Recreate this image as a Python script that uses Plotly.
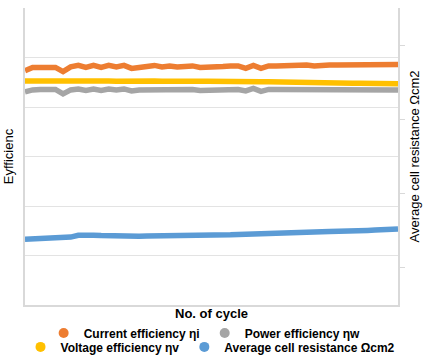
import plotly.graph_objects as go

cycles = list(range(1, 51))

current_eff = [94.7, 96.0, 96.0, 96.0, 96.0, 94.3, 96.2, 96.8, 96.0, 96.8,
               96.0, 96.8, 96.2, 96.8, 95.6, 96.0, 96.2, 96.8, 96.2, 96.6,
               96.2, 96.4, 96.6, 96.0, 96.0, 96.2, 96.4, 96.6, 96.6, 95.6,
               96.8, 95.6, 96.6, 96.6, 96.8, 96.8, 96.8, 97.0, 96.6, 97.0,
               97.0, 97.0, 97.0, 97.2, 97.0, 97.2, 97.0, 97.2, 97.2, 97.2]

voltage_eff = [90.5, 90.6, 90.5, 90.5, 90.6, 90.5, 90.5, 90.6, 90.5, 90.5,
               90.5, 90.5, 90.4, 90.5, 90.5, 90.4, 90.5, 90.5, 90.4, 90.5,
               90.4, 90.4, 90.5, 90.4, 90.4, 90.3, 90.3, 90.2, 90.2, 90.3,
               90.2, 90.2, 90.2, 90.1, 90.2, 90.1, 90.1, 89.9, 89.8, 89.8,
               89.8, 89.7, 89.7, 89.6, 89.6, 89.6, 89.5, 89.5, 89.4, 89.4]

power_eff = [86.1, 86.9, 87.1, 87.1, 87.1, 85.3, 86.9, 87.3, 86.7, 87.3,
             86.7, 87.3, 86.9, 87.3, 86.5, 86.9, 86.9, 87.3, 86.9, 87.1,
             86.9, 87.1, 87.1, 86.7, 86.7, 86.9, 86.9, 87.1, 87.1, 86.5,
             87.5, 86.3, 87.1, 87.1, 87.1, 87.1, 87.1, 87.1, 86.9, 86.9,
             86.9, 86.9, 86.9, 86.9, 86.9, 86.9, 86.9, 86.9, 86.9, 86.9]

resistance = [1.385, 1.39, 1.40, 1.40, 1.41, 1.42, 1.415, 1.44, 1.445, 1.44,
              1.435, 1.43, 1.435, 1.43, 1.43, 1.425, 1.43, 1.43, 1.43, 1.435,
              1.43, 1.435, 1.435, 1.44, 1.44, 1.44, 1.445, 1.445, 1.45, 1.45,
              1.46, 1.465, 1.46, 1.465, 1.47, 1.47, 1.475, 1.48, 1.48, 1.485,
              1.49, 1.49, 1.495, 1.50, 1.50, 1.505, 1.51, 1.515, 1.52, 1.525]

names = ["Current efficiency \u03b7i", "Power efficiency \u03b7w",
         "Voltage efficiency \u03b7v", "Average cell resistance \u03a9cm2"]
colors = ["#ED7D31", "#A5A5A5", "#FFC000", "#5B9BD5"]

FONT = "Liberation Sans, Arial, sans-serif"

fig = go.Figure()
series = [(current_eff, "y"), (power_eff, "y"), (voltage_eff, "y"), (resistance, "y2")]
for (vals, ax), nm, c in zip(series, names, colors):
    fig.add_trace(go.Scatter(x=cycles, y=vals, yaxis=ax, mode="lines",
                             line=dict(color=c, width=5.5), name=nm,
                             showlegend=False))

# legend entries (circle markers), two rows
legends = ["legend", "legend", "legend2", "legend2"]
for nm, c, lg in zip(names, colors, legends):
    fig.add_trace(go.Scatter(x=[None], y=[None], mode="markers",
                             marker=dict(color=c, size=10, symbol="circle"),
                             name=nm, legend=lg, showlegend=True))

legend_style = dict(orientation="h", xanchor="left", yanchor="middle",
                    font=dict(family=FONT, size=12, color="#000000", weight="bold"),
                    bgcolor="rgba(0,0,0,0)", itemwidth=30, borderwidth=0)

fig.update_layout(
    width=434, height=360,
    margin=dict(l=25, r=36, t=8, b=55, autoexpand=False),
    paper_bgcolor="white", plot_bgcolor="white",
    font=dict(family=FONT, color="#000000"),
    xaxis=dict(range=[1, 50], showgrid=False, zeroline=False, automargin=False,
               showline=True, linecolor="#D9D9D9", linewidth=1.5,
               showticklabels=False, ticks="",
               title=dict(text="No. of cycle", standoff=3,
                          font=dict(family=FONT, size=13, color="#000000", weight="bold"))),
    yaxis=dict(range=[0, 120], dtick=20, showgrid=True, gridcolor="#E3E3E3",
               gridwidth=1, zeroline=False, showline=True, linecolor="#D9D9D9",
               linewidth=1.5, showticklabels=False, ticks="", automargin=False,
               title=dict(text="Eyfficienc", standoff=7,
                          font=dict(family=FONT, size=13, color="#000000"))),
    yaxis2=dict(range=[0.5, 4.5], dtick=1, tick0=0, overlaying="y", side="right",
                showgrid=False, zeroline=False, showline=True, linecolor="#D9D9D9",
                linewidth=1.5, showticklabels=False, ticks="outside", ticklen=5,
                tickcolor="#D9D9D9", automargin=False,
                title=dict(text="Average cell resistance \u03a9cm2", standoff=6,
                           font=dict(family=FONT, size=13, color="#000000"))),
    legend=dict(x=0.05, y=-0.094, **legend_style),
    legend2=dict(x=-0.012, y=-0.141, **legend_style),
)

fig.write_html("out.html", config={"displayModeBar": False},
               post_script="document.body.style.margin='0';document.body.style.overflow='hidden';")
